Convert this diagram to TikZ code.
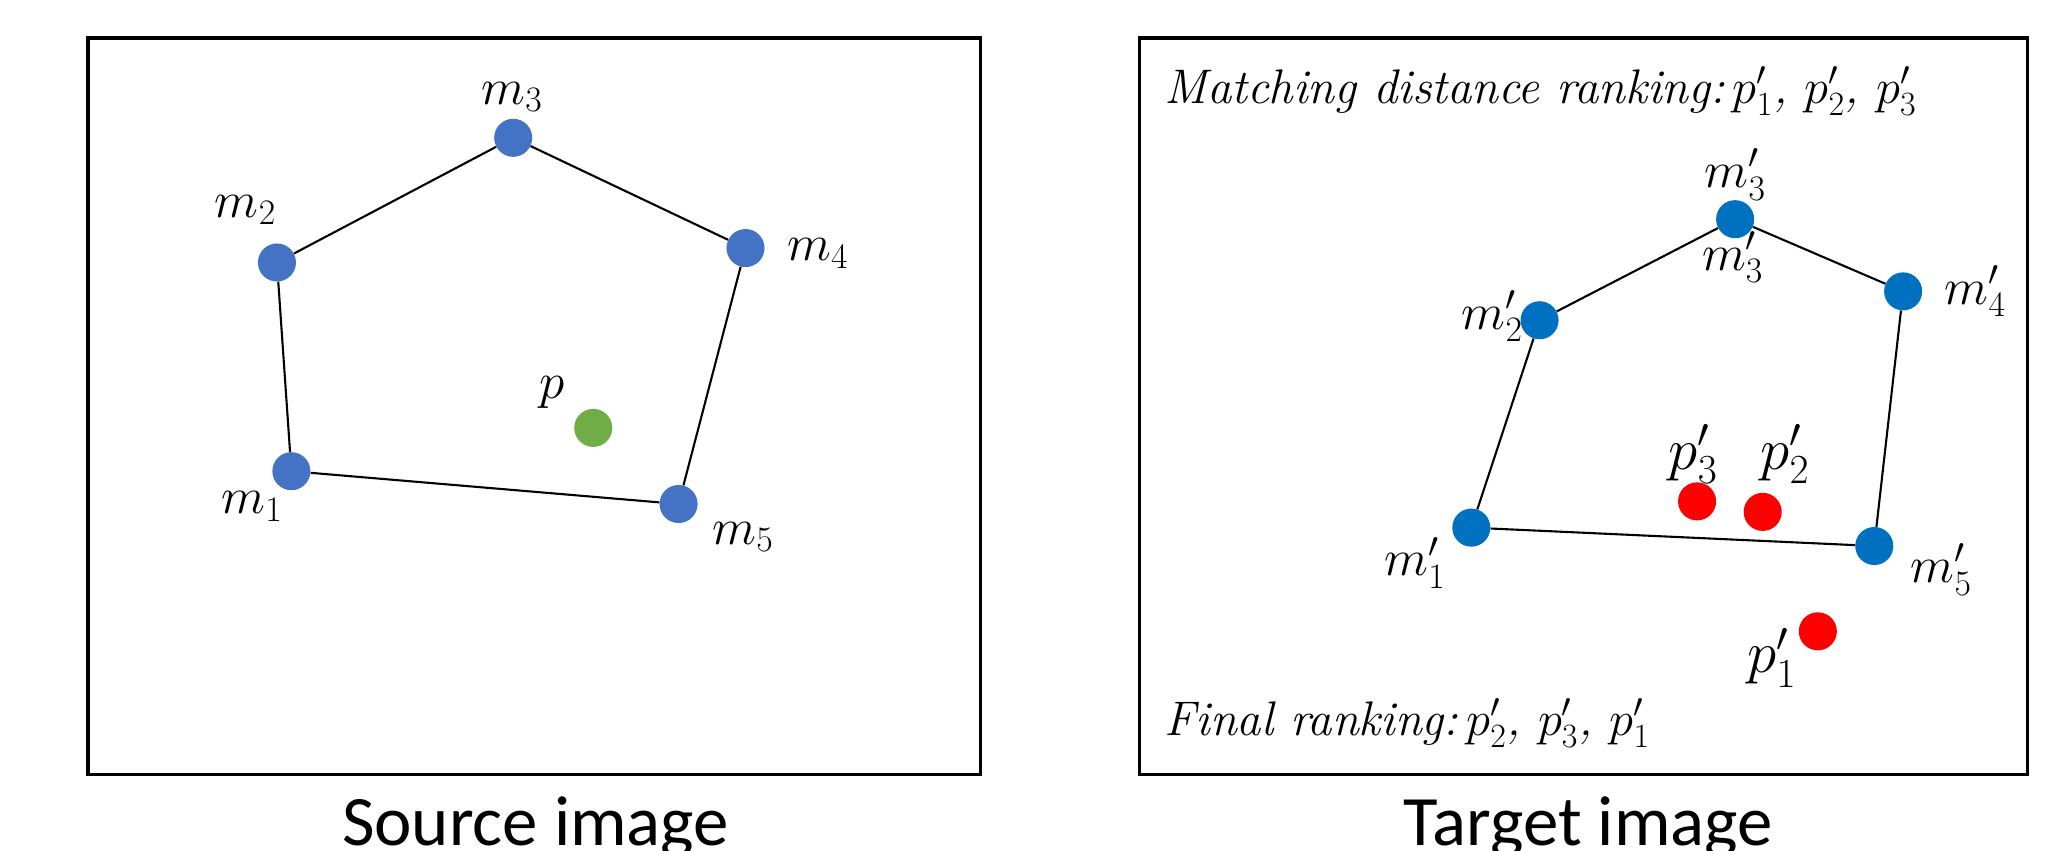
\RequirePackage{fix-cm}
\documentclass[tikz,border=0pt]{standalone}
\usepackage{fontspec}
\newfontfamily\calib{Carlito}
\begin{document}
\begin{tikzpicture}[x=1pt,y=-1pt,
  bdot/.style={circle,fill=srcblue,inner sep=0pt,minimum width=28pt,minimum height=29pt},
  tdot/.style={circle,fill=tgtblue,inner sep=0pt,minimum width=29pt,minimum height=29pt},
  rdot/.style={circle,fill=red,inner sep=0pt,minimum width=29pt,minimum height=29pt},
  gdot/.style={circle,fill=srcgreen,inner sep=0pt,minimum width=28pt,minimum height=29pt},
  lab/.style={inner sep=0pt,font=\fontsize{39}{44}\selectfont},
  plab/.style={inner sep=0pt,font=\fontsize{45}{50}\selectfont},
  edge/.style={draw=black,line width=1.6pt},
  frame/.style={draw=black,line width=2.5pt},
  caption/.style={inner sep=0pt,anchor=base,font=\calib\fontsize{54}{60}\selectfont},
  note/.style={inner sep=0pt,anchor=base west,font=\itshape\fontsize{37}{42}\selectfont}]
\definecolor{srcblue}{HTML}{4472C4}
\definecolor{srcgreen}{HTML}{70AD47}
\definecolor{tgtblue}{HTML}{0070C0}
\useasboundingbox (0,0) rectangle (1568,648);
% frames
\node[frame,minimum width=680pt,minimum height=561pt,inner sep=0pt] (lbox) at (407,309.5) {};
\node[frame,minimum width=677pt,minimum height=561pt,inner sep=0pt] (rbox) at (1206.5,309.5) {};
\node[caption] (lcap) at (408,644) {Source image};
\node[caption] (rcap) at (1210,644) {Target image};
% source
\node[bdot] (m1) at (222,359) {};
\node[bdot] (m2) at (211,200) {};
\node[bdot] (m3) at (391,105) {};
\node[bdot] (m4) at (568,189) {};
\node[bdot] (m5) at (517,384) {};
\node[gdot] (p) at (452,326) {};
\draw[edge] (m1) -- (m2) -- (m3) -- (m4) -- (m5) -- (m1);
\node[lab] (lm1) at (192,386) {$m_1$};
\node[lab] (lm2) at (187,160) {$m_2$};
\node[lab] (lm3) at (390,74) {$m_3$};
\node[lab] (lm4) at (623,193) {$m_4$};
\node[lab] (lm5) at (566,409) {$m_5$};
\node[lab] (lp) at (421,299) {$p$};
% target
\node[tdot] (n1) at (1121,402) {};
\node[tdot] (n2) at (1173,244) {};
\node[tdot] (n3) at (1322,167) {};
\node[tdot] (n4) at (1450,222) {};
\node[tdot] (n5) at (1428,416) {};
\node[rdot] (q3) at (1293,382) {};
\node[rdot] (q2) at (1343,390) {};
\node[rdot] (q1) at (1385,481) {};
\draw[edge] (n1) -- (n2) -- (n3) -- (n4) -- (n5) -- (n1);
\node[lab] (ln1) at (1078,429) {$m'_1$};
\node[lab] (ln2) at (1137,241) {$m'_2$};
\node[lab] (ln3a) at (1322,133) {$m'_3$};
\node[lab] (ln3b) at (1320,196) {$m'_3$};
\node[lab] (ln4) at (1505,222) {$m'_4$};
\node[lab] (ln5) at (1479,434) {$m'_5$};
\node[plab] (lq3) at (1290,346) {$p'_3$};
\node[plab] (lq2) at (1360,346) {$p'_2$};
\node[plab] (lq1) at (1350,501) {$p'_1$};
\node[note] (rank1) at (887,78.5) {Matching distance ranking:\,$p'_1$, $p'_2$, $p'_3$};
\node[note] (rank2) at (887,560) {Final ranking:\,$p'_2$, $p'_3$, $p'_1$};
\end{tikzpicture}
\end{document}
